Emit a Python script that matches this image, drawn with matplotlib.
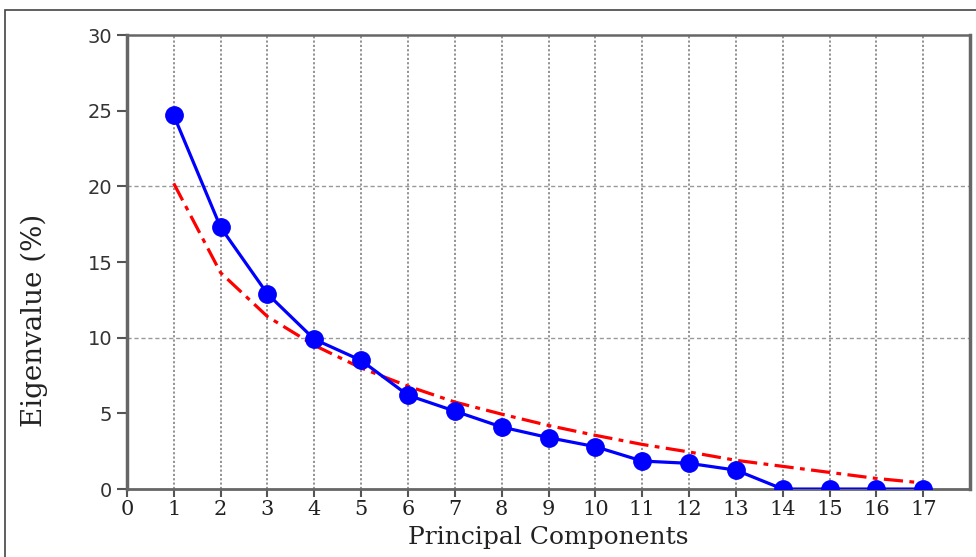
import matplotlib.pyplot as plt
from matplotlib.patches import Rectangle

components = list(range(1, 18))
eigenvalue = [24.7, 17.3, 12.9, 9.9, 8.5, 6.2, 5.15, 4.1, 3.4, 2.8,
              1.85, 1.7, 1.25, 0.0, 0.0, 0.0, 0.0]
broken_stick = [20.2, 14.3, 11.4, 9.5, 8.0, 6.8, 5.75, 4.95, 4.2, 3.55,
                2.95, 2.45, 1.9, 1.5, 1.1, 0.7, 0.4]

x_ticks = list(range(0, 18))
y_ticks = [0, 5, 10, 15, 20, 25, 30]

fig = plt.figure(figsize=(9.76, 5.57), dpi=100)
ax = fig.add_axes([0.130, 0.122, 0.864, 0.815])

# outer frame of the original figure (partly cropped)
fig.patches.append(Rectangle((0.005, -0.1), 1.2, 1.082, transform=fig.transFigure,
                             fill=False, edgecolor='#444444', linewidth=1.2))

ax.plot(components, broken_stick, color='red', linestyle=(0, (6, 2, 1.5, 2)),
        linewidth=2.3, zorder=3)
ax.plot(components, eigenvalue, color='blue', linewidth=2.3, marker='o',
        markersize=12.5, zorder=4)

ax.set_xlim(0, 18)
ax.set_ylim(0, 30)
ax.set_xticks(x_ticks)
ax.set_yticks(y_ticks)

# vertical dotted grid at every component, horizontal dashed grid at 10 and 20
for xv in x_ticks[1:]:
    ax.axvline(xv, color='#8a8a8a', linestyle=(0, (1.2, 1.2)), linewidth=1.3, zorder=1)
for yv in [10, 20]:
    ax.axhline(yv, color='#999999', linestyle=(0, (3, 2)), linewidth=1.0, zorder=1)

for side in ['left', 'bottom', 'top', 'right']:
    ax.spines[side].set_color('#666666')
ax.spines['left'].set_linewidth(2.5)
ax.spines['bottom'].set_linewidth(2.0)
ax.spines['top'].set_linewidth(1.8)
ax.spines['right'].set_linewidth(2.5)

ax.tick_params(axis='y', direction='out', length=7, width=1.5, color='#555555',
               labelsize=14, labelcolor='#333333')
ax.tick_params(axis='x', direction='out', length=6, width=1.5, color='#555555',
               labelsize=15, labelcolor='#222222', pad=2)
for lab in ax.get_xticklabels():
    lab.set_family('DejaVu Serif')
for lab in ax.get_yticklabels():
    lab.set_family('DejaVu Sans')

ax.set_xlabel('Principal Components', family='DejaVu Serif', fontsize=18,
              color='#222222', labelpad=5)
ax.set_ylabel('Eigenvalue (%)', family='DejaVu Serif', fontsize=20,
              color='#222222')
ax.yaxis.set_label_coords(-0.093, 0.372)

fig.savefig('out.png', dpi=100)
